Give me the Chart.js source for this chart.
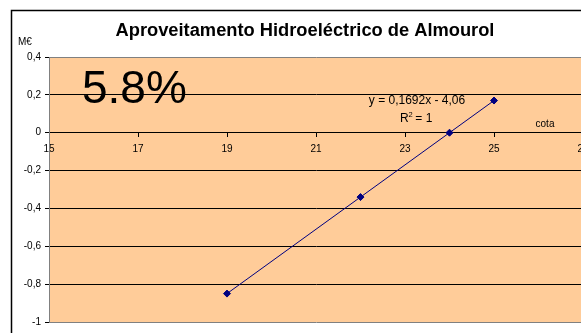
<!DOCTYPE html>
<html>
<head>
<meta charset="utf-8">
<script src="https://cdn.jsdelivr.net/npm/chart.js@4/dist/chart.umd.min.js"></script>
<style>
  html, body { margin: 0; padding: 0; background: #fff; overflow: hidden; }
  #wrap { position: relative; width: 640px; height: 333px; }
</style>
</head>
<body>
<div id="wrap"><canvas id="almourolChart" width="640" height="333"></canvas></div>
<script>
// valores (cota vs M€)
const cota = [19, 22, 24, 25];
const valorMEuro = [-0.85, -0.34, 0.0, 0.17];
const xTicks = [15, 17, 19, 21, 23, 25, 27];
const yTicks = [0.4, 0.2, 0, -0.2, -0.4, -0.6, -0.8, -1];

const chartTitle = 'Aproveitamento Hidroeléctrico de Almourol';
const unitLabel = 'M€';
const axisLabel = 'cota';
const bigLabel = '5.8%';
const trendEquation = 'y = 0,1692x - 4,06';

const fontFamily = "'Liberation Sans', Arial, sans-serif";

function commaNumber(v) {
    return String(Math.round(v * 10) / 10).replace('.', ',');
}

var excelLookPlugin = {
    id: 'excelLook',
    beforeDraw: (chart) => {
        const ctx = chart.ctx;
        const area = chart.chartArea;
        ctx.save();
        ctx.fillStyle = '#FFFFFF';
        ctx.fillRect(0, 0, chart.width, chart.height);
        // chart border
        ctx.strokeStyle = '#000000';
        ctx.lineWidth = 1.5;
        ctx.strokeRect(11.5, 10.5, chart.width, chart.height);
        // plot area
        ctx.fillStyle = '#FFCC99';
        ctx.fillRect(area.left, area.top, area.right - area.left, area.bottom - area.top);
        ctx.restore();
    },
    afterDraw: (chart) => {
        const ctx = chart.ctx;
        ctx.save();
        ctx.fillStyle = '#000000';
        ctx.textBaseline = 'alphabetic';

        ctx.font = 'bold 18.3px ' + fontFamily;
        ctx.textAlign = 'center';
        ctx.fillText(chartTitle, 305, 36);

        ctx.font = '10px ' + fontFamily;
        ctx.textAlign = 'left';
        ctx.fillText(unitLabel, 18, 45);

        ctx.textAlign = 'center';
        ctx.fillText(axisLabel, 545, 127);

        ctx.font = '46px ' + fontFamily;
        ctx.textAlign = 'left';
        ctx.fillText(bigLabel, 82, 103);

        ctx.font = '12px ' + fontFamily;
        ctx.textAlign = 'center';
        ctx.fillText(trendEquation, 417, 104);

        // R² = 1
        ctx.textAlign = 'left';
        ctx.fillText('R', 400, 122);
        ctx.font = '7.5px ' + fontFamily;
        ctx.fillText('2', 408.5, 116.5);
        ctx.font = '12px ' + fontFamily;
        ctx.fillText(' = 1', 412, 122);
        ctx.restore();
    }
};

var almourolChart = new Chart(document.getElementById('almourolChart').getContext('2d'), {
    type: 'scatter',
    plugins: [excelLookPlugin],
    data: {
        datasets: [{
            data: cota.map((c, i) => ({ x: c, y: valorMEuro[i] })),
            showLine: true,
            borderColor: '#000080',
            borderWidth: 1,
            backgroundColor: '#000080',
            pointStyle: 'rectRot',
            pointRadius: 3.5,
            pointBorderWidth: 1
        }]
    },
    options: {
        responsive: false,
        animation: false,
        layout: { padding: { top: 57, right: 57, bottom: 11, left: 0 } },
        plugins: {
            legend: { display: false },
            tooltip: { enabled: false }
        },
        scales: {
            x: {
                type: 'linear',
                position: { y: 0 },
                min: 15,
                max: 27,
                afterBuildTicks: (scale) => { scale.ticks = xTicks.map(v => ({ value: v })); },
                ticks: {
                    color: '#000',
                    font: { family: fontFamily, size: 10 },
                    padding: 7,
                    maxRotation: 0,
                    callback: (v) => String(v)
                },
                grid: {
                    drawOnChartArea: false,
                    drawTicks: true,
                    tickLength: 4,
                    tickColor: '#000'
                },
                border: { color: '#000', width: 1 }
            },
            y: {
                type: 'linear',
                min: -1,
                max: 0.4,
                afterBuildTicks: (scale) => { scale.ticks = yTicks.map(v => ({ value: v })); },
                afterFit: (scale) => { scale.width = 49; },
                ticks: {
                    color: '#000',
                    font: { family: fontFamily, size: 10 },
                    padding: 4,
                    callback: (v) => commaNumber(v)
                },
                grid: {
                    color: (c) => (c.tick && (c.tick.value === 0.4 || c.tick.value === -1)) ? '#808080' : '#000000',
                    lineWidth: 1,
                    tickLength: 4,
                    tickColor: '#000'
                },
                border: { color: '#808080', width: 1 }
            }
        }
    }
});
</script>
</body>
</html>
